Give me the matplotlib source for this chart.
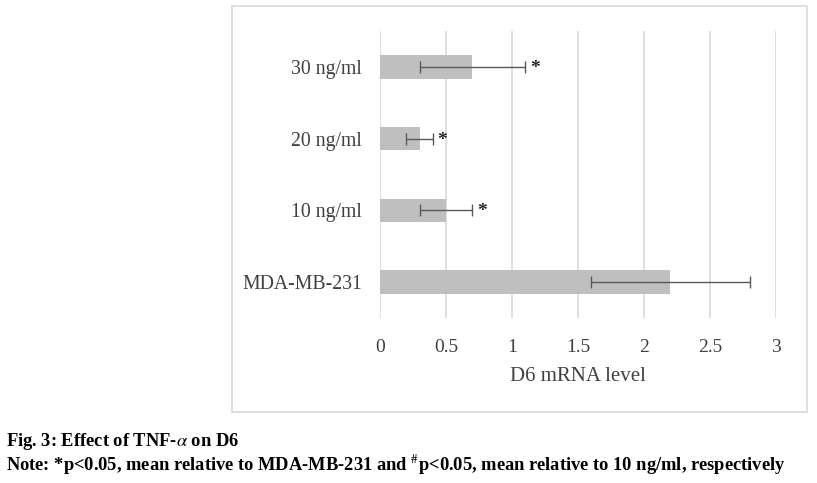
import numpy as np
import matplotlib.pyplot as plt
from matplotlib.patches import Rectangle

# data
groups = ['MDA-MB-231', '10 ng/ml', '20 ng/ml', '30 ng/ml']
means = [2.2, 0.5, 0.3, 0.7]
errs = [0.6, 0.2, 0.1, 0.4]
marks = ['', '*', '*', '*']

plt.rcParams['font.family'] = ['Liberation Serif', 'DejaVu Serif']
plt.rcParams['mathtext.fontset'] = 'stix'

fig = plt.figure(figsize=(8.17, 4.83), dpi=100)

# chart frame
fig.patches.append(Rectangle((232 / 817, 1 - 412 / 483), 575 / 817, 406 / 483,
                             transform=fig.transFigure, fill=False,
                             edgecolor='#d9d9d9', lw=1.2))

ax = fig.add_axes([380 / 817, 1 - 318 / 483, 396 / 817, 287 / 483])
y = np.arange(len(groups))
ax.barh(y, means, height=0.33, color='#bfbfbf', zorder=2)
ax.errorbar(means, y, xerr=errs, fmt='none', ecolor='#595959', elinewidth=1,
            capsize=4, capthick=1, zorder=3)
for yi, m, e, s in zip(y, means, errs, marks):
    if s:
        ax.text(m + e + 0.035, yi - 0.02, s, fontsize=14, fontweight='bold',
                color='#262626', ha='left', va='center')

ax.set_xlim(0, 3)
ax.set_ylim(-0.5, 3.5)
ax.set_xticks(np.arange(0, 3.01, 0.5))
ax.set_xticklabels(['0', '0.5', '1', '1.5', '2', '2.5', '3'])
ax.set_yticks(y)
ax.set_yticklabels(groups)
ax.tick_params(length=0, labelcolor='#404040')
ax.tick_params(axis='x', labelsize=14, pad=15)
ax.tick_params(axis='y', labelsize=14.2, pad=13)
ax.grid(axis='x', color='#d9d9d9', lw=1.2, zorder=0)
for sp in ax.spines.values():
    sp.set_visible(False)
ax.set_xlabel('D6 mRNA level', fontsize=15, color='#404040', labelpad=8)

# caption
fig.text(6 / 817, 1 - 441 / 483, 'Fig. 3: Effect of TNF-$\\mathit{\\alpha}$ on D6', fontsize=13.3,
         fontweight='bold', va='center', ha='left')
fig.text(6 / 817, 1 - 465 / 483,
         'Note: *p<0.05, mean relative to MDA-MB-231 and $^{\\#}$p<0.05, mean relative to 10 ng/ml, respectively',
         fontsize=13.3, fontweight='bold', va='center', ha='left')

fig.savefig('out.png', dpi=100)
